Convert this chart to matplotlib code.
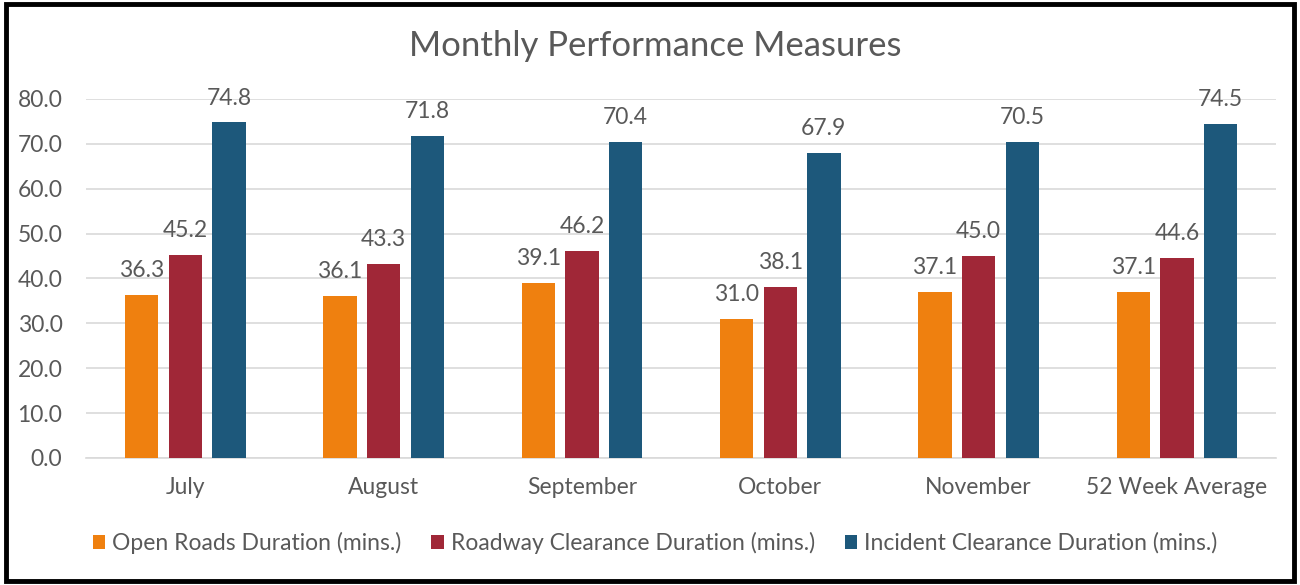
import matplotlib
matplotlib.use('Agg')
import matplotlib.pyplot as plt
from matplotlib.patches import Rectangle, Patch
import numpy as np

plt.rcParams['font.family'] = ['Lato', 'DejaVu Sans']

categories = ['July', 'August', 'September', 'October', 'November', '52 Week Average']
open_roads = [36.3, 36.1, 39.1, 31.0, 37.1, 37.1]
roadway_clearance = [45.2, 43.3, 46.2, 38.1, 45.0, 44.6]
incident_clearance = [74.8, 71.8, 70.4, 67.9, 70.5, 74.5]
series_names = [
    'Open Roads Duration (mins.)',
    'Roadway Clearance Duration (mins.)',
    'Incident Clearance Duration (mins.)',
]
y_ticks = [0, 10, 20, 30, 40, 50, 60, 70, 80]

COLORS = ['#EF800F', '#A02737', '#1D587B']
TEXT_GRAY = '#595959'
SMALL = 16.5

fig = plt.figure(figsize=(13, 5.85), dpi=100)
ax = fig.add_axes([0.0662, 0.2171, 0.9154, 0.6137])

x = np.arange(len(categories))
bar_width = 0.168
offset = 0.22

for i, (values, color, name) in enumerate(
    zip([open_roads, roadway_clearance, incident_clearance], COLORS, series_names)
):
    positions = x + (i - 1) * offset
    ax.bar(positions, values, width=bar_width, color=color, label=name, zorder=3)
    for pos, val in zip(positions, values):
        ax.annotate(
            f'{val:.1f}',
            xy=(pos, val),
            xytext=(0, 17.5),
            textcoords='offset points',
            ha='center',
            va='center',
            fontsize=SMALL,
            color=TEXT_GRAY,
            annotation_clip=False,
        )

ax.set_xlim(-0.5, len(categories) - 0.5)
ax.set_ylim(0, 80)
ax.set_yticks(y_ticks)
ax.set_yticklabels([f'{v:.1f}' for v in y_ticks])
ax.set_xticks(x)
ax.set_xticklabels(categories)
ax.tick_params(axis='both', length=0, labelsize=SMALL, labelcolor=TEXT_GRAY)
ax.tick_params(axis='y', pad=17)
ax.tick_params(axis='x', pad=14)
ax.grid(axis='y', color='#D9D9D9', linewidth=1.2, zorder=0)
for side in ['top', 'right', 'left']:
    ax.spines[side].set_visible(False)
ax.spines['bottom'].set_color('#D9D9D9')
ax.spines['bottom'].set_linewidth(1.2)

fig.text(0.504, 0.922, 'Monthly Performance Measures', ha='center', va='center',
         fontsize=25, color=TEXT_GRAY)

handles = [Patch(facecolor=c, edgecolor='none') for c in COLORS]
fig.legend(
    handles,
    series_names,
    loc='center',
    bbox_to_anchor=(0.504, 0.072),
    ncol=3,
    frameon=False,
    fontsize=SMALL,
    labelcolor=TEXT_GRAY,
    handlelength=0.55,
    handleheight=0.55,
    handletextpad=0.3,
    columnspacing=1.3,
)

# black frame around the whole chart
fig.patches.append(
    Rectangle((0.0045, 0.0075), 0.9905, 0.985, transform=fig.transFigure,
              fill=False, edgecolor='black', linewidth=3.5)
)

fig.savefig('out.png', dpi=100, facecolor='white')
